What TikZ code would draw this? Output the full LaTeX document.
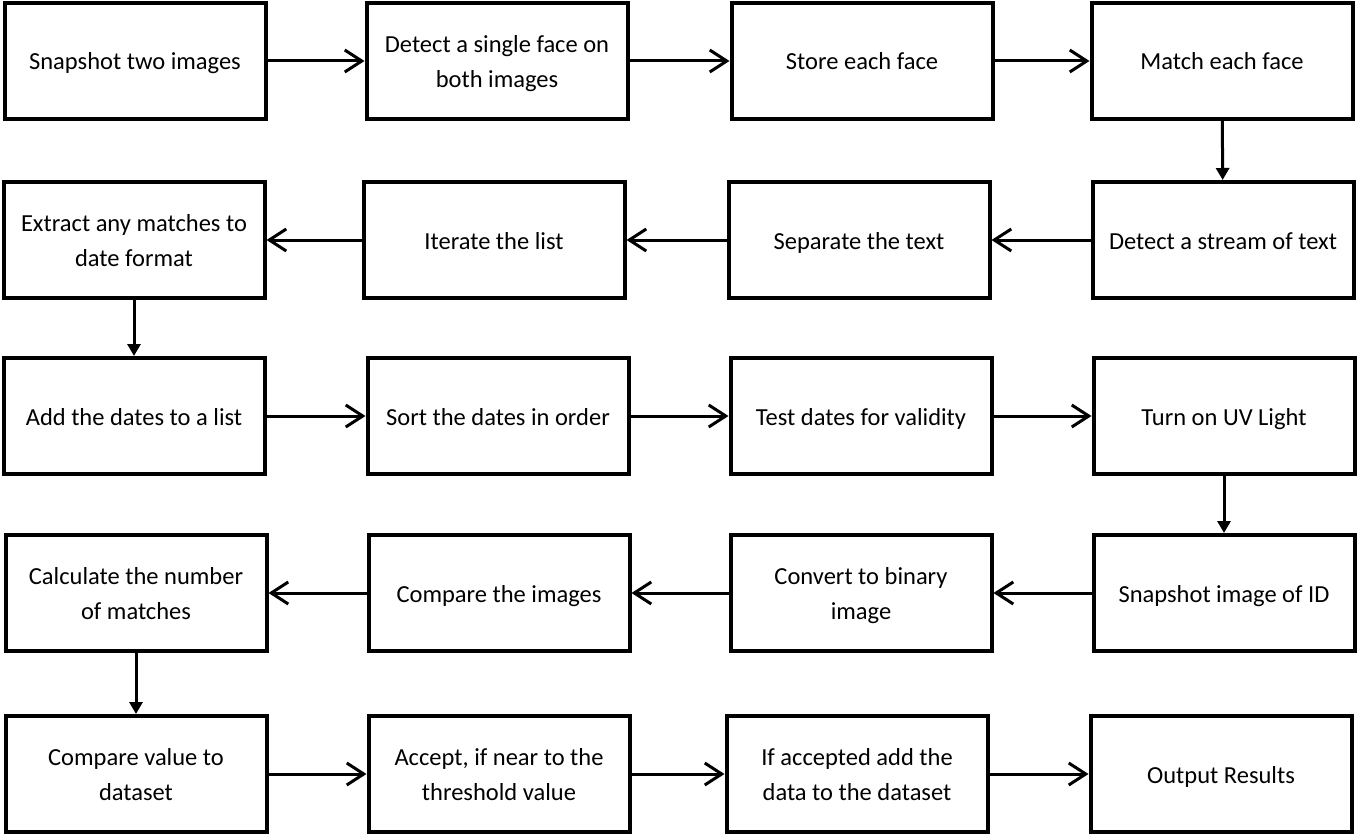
\documentclass[tikz,border=0pt]{standalone}
\usepackage{fontspec}
\setmainfont{Carlito}
\usetikzlibrary{arrows.meta}
\newcommand{\boxstrut}{\rule[-6pt]{0pt}{30pt}}

\begin{document}
\begin{tikzpicture}[x=1pt,y=-1pt,
    box/.style={draw,line width=4pt,minimum width=261pt,minimum height=116pt,
        inner sep=0pt,align=center,font=\fontsize{24.5}{35}\selectfont,
        execute at begin node=\boxstrut,execute at end node=\boxstrut},
    flow/.style={-{Straight Barb[length=17pt,width=22pt]},line width=3pt},
    down/.style={-{Triangle[length=12pt,width=13pt]},line width=3pt}]
    \useasboundingbox (0,0) rectangle (1357,837);

    % Row 1 (left to right)
    \node[box] (snap)   at (135,61)  {Snapshot two images};
    \node[box] (detect) at (497,61)  {\boxstrut Detect a single face on\\both images};
    \node[box] (store)  at (862,61)  {Store each face};
    \node[box] (match)  at (1222,61) {Match each face};

    % Row 2 (right to left)
    \node[box] (stream)   at (1223,240) {Detect a stream of text};
    \node[box] (separate) at (859,240)  {Separate the text};
    \node[box] (iterate)  at (494,240)  {Iterate the list};
    \node[box] (extract)  at (134,240)  {\boxstrut Extract any matches to\\date format};

    % Row 3 (left to right)
    \node[box] (adddates) at (134,416)  {Add the dates to a list};
    \node[box] (sort)     at (498,416)  {Sort the dates in order};
    \node[box] (test)     at (861,416)  {Test dates for validity};
    \node[box] (uv)       at (1224,416) {Turn on UV Light};

    % Row 4 (right to left)
    \node[box] (snapid)  at (1224,593) {Snapshot image of ID};
    \node[box] (binary)  at (861,593)  {\boxstrut Convert to binary\\image};
    \node[box] (compare) at (499,593)  {Compare the images};
    \node[box] (calc)    at (136,593)  {\boxstrut Calculate the number\\of matches};

    % Row 5 (left to right)
    \node[box] (value)   at (136,774)  {\boxstrut Compare value to\\dataset};
    \node[box] (accept)  at (499,774)  {\boxstrut Accept, if near to the\\threshold value};
    \node[box] (adddata) at (857,774)  {\boxstrut If accepted add the\\data to the dataset};
    \node[box] (output)  at (1221,774) {Output Results};

    % Horizontal flow
    \foreach \a/\b in {snap/detect,detect/store,store/match,
                       stream/separate,separate/iterate,iterate/extract,
                       adddates/sort,sort/test,test/uv,
                       snapid/binary,binary/compare,compare/calc,
                       value/accept,accept/adddata,adddata/output}
        \draw[flow] (\a) -- (\b);

    % Row changes
    \draw[down] (match) -- (stream);
    \draw[down] (extract) -- (adddates);
    \draw[down] (uv) -- (snapid);
    \draw[down] (calc) -- (value);
\end{tikzpicture}
\end{document}
